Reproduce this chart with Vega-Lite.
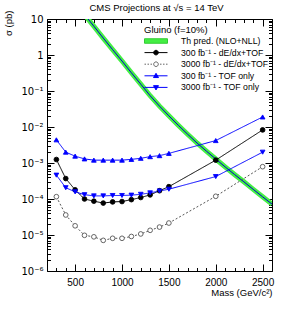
{
  "$schema": "https://vega.github.io/schema/vega-lite/v6.json",
  "width": 225,
  "height": 252,
  "autosize": {"type": "none"},
  "padding": {"left": 47, "top": 19, "right": 15, "bottom": 40},
  "background": "white",
  "config": {
    "font": "Liberation Sans",
    "view": {"stroke": "#000", "strokeWidth": 1},
    "axis": {"grid": false, "domain": false, "labelColor": "#000", "tickColor": "#000", "titleColor": "#000", "titleFontWeight": "normal", "labelFont": "Liberation Sans", "titleFont": "Liberation Sans", "labelFlush": false, "labelOverlap": false, "labelBound": false}
  },
  "title": {"text": "CMS Projections at √s = 14 TeV", "fontSize": 9.5, "fontWeight": "normal", "font": "Liberation Sans", "anchor": "middle", "frame": "group", "offset": -2, "color": "#000", "dx": -3},
  "data": {"values": [
    {"series": "Th pred. (NLO+NLL)", "mass": 500, "xs": 27.9},
    {"series": "Th pred. (NLO+NLL)", "mass": 600, "xs": 13.2},
    {"series": "Th pred. (NLO+NLL)", "mass": 700, "xs": 6.3},
    {"series": "Th pred. (NLO+NLL)", "mass": 800, "xs": 2.95},
    {"series": "Th pred. (NLO+NLL)", "mass": 900, "xs": 1.41},
    {"series": "Th pred. (NLO+NLL)", "mass": 1000, "xs": 0.68},
    {"series": "Th pred. (NLO+NLL)", "mass": 1100, "xs": 0.32},
    {"series": "Th pred. (NLO+NLL)", "mass": 1200, "xs": 0.155},
    {"series": "Th pred. (NLO+NLL)", "mass": 1300, "xs": 0.074},
    {"series": "Th pred. (NLO+NLL)", "mass": 1400, "xs": 0.038},
    {"series": "Th pred. (NLO+NLL)", "mass": 1500, "xs": 0.0204},
    {"series": "Th pred. (NLO+NLL)", "mass": 1600, "xs": 0.0112},
    {"series": "Th pred. (NLO+NLL)", "mass": 1700, "xs": 0.0063},
    {"series": "Th pred. (NLO+NLL)", "mass": 1800, "xs": 0.0036},
    {"series": "Th pred. (NLO+NLL)", "mass": 1900, "xs": 0.00214},
    {"series": "Th pred. (NLO+NLL)", "mass": 2000, "xs": 0.00129},
    {"series": "Th pred. (NLO+NLL)", "mass": 2100, "xs": 0.00078},
    {"series": "Th pred. (NLO+NLL)", "mass": 2200, "xs": 0.00048},
    {"series": "Th pred. (NLO+NLL)", "mass": 2300, "xs": 0.0003},
    {"series": "Th pred. (NLO+NLL)", "mass": 2400, "xs": 0.000185},
    {"series": "Th pred. (NLO+NLL)", "mass": 2500, "xs": 0.000115},
    {"series": "Th pred. (NLO+NLL)", "mass": 2600, "xs": 0.000072},

    {"series": "300 fb⁻¹ - dE/dx+TOF", "mass": 300, "xs": 0.00125},
    {"series": "300 fb⁻¹ - dE/dx+TOF", "mass": 400, "xs": 0.00037},
    {"series": "300 fb⁻¹ - dE/dx+TOF", "mass": 500, "xs": 0.00018},
    {"series": "300 fb⁻¹ - dE/dx+TOF", "mass": 600, "xs": 0.0001},
    {"series": "300 fb⁻¹ - dE/dx+TOF", "mass": 700, "xs": 0.000087},
    {"series": "300 fb⁻¹ - dE/dx+TOF", "mass": 800, "xs": 0.000077},
    {"series": "300 fb⁻¹ - dE/dx+TOF", "mass": 900, "xs": 0.000083},
    {"series": "300 fb⁻¹ - dE/dx+TOF", "mass": 1000, "xs": 0.000085},
    {"series": "300 fb⁻¹ - dE/dx+TOF", "mass": 1100, "xs": 0.000096},
    {"series": "300 fb⁻¹ - dE/dx+TOF", "mass": 1200, "xs": 0.00011},
    {"series": "300 fb⁻¹ - dE/dx+TOF", "mass": 1300, "xs": 0.00013},
    {"series": "300 fb⁻¹ - dE/dx+TOF", "mass": 1400, "xs": 0.00017},
    {"series": "300 fb⁻¹ - dE/dx+TOF", "mass": 1500, "xs": 0.00022},
    {"series": "300 fb⁻¹ - dE/dx+TOF", "mass": 2000, "xs": 0.0012},
    {"series": "300 fb⁻¹ - dE/dx+TOF", "mass": 2500, "xs": 0.0083},

    {"series": "3000 fb⁻¹ - dE/dx+TOF", "mass": 300, "xs": 0.000116},
    {"series": "3000 fb⁻¹ - dE/dx+TOF", "mass": 400, "xs": 0.000036},
    {"series": "3000 fb⁻¹ - dE/dx+TOF", "mass": 500, "xs": 0.000018},
    {"series": "3000 fb⁻¹ - dE/dx+TOF", "mass": 600, "xs": 0.0000098},
    {"series": "3000 fb⁻¹ - dE/dx+TOF", "mass": 700, "xs": 0.0000089},
    {"series": "3000 fb⁻¹ - dE/dx+TOF", "mass": 800, "xs": 0.0000071},
    {"series": "3000 fb⁻¹ - dE/dx+TOF", "mass": 900, "xs": 0.0000081},
    {"series": "3000 fb⁻¹ - dE/dx+TOF", "mass": 1000, "xs": 0.0000081},
    {"series": "3000 fb⁻¹ - dE/dx+TOF", "mass": 1100, "xs": 0.0000091},
    {"series": "3000 fb⁻¹ - dE/dx+TOF", "mass": 1200, "xs": 0.0000107},
    {"series": "3000 fb⁻¹ - dE/dx+TOF", "mass": 1300, "xs": 0.0000135},
    {"series": "3000 fb⁻¹ - dE/dx+TOF", "mass": 1400, "xs": 0.0000166},
    {"series": "3000 fb⁻¹ - dE/dx+TOF", "mass": 1500, "xs": 0.0000215},
    {"series": "3000 fb⁻¹ - dE/dx+TOF", "mass": 2000, "xs": 0.000119},
    {"series": "3000 fb⁻¹ - dE/dx+TOF", "mass": 2500, "xs": 0.00079},

    {"series": "300 fb⁻¹ - TOF only", "mass": 300, "xs": 0.0044},
    {"series": "300 fb⁻¹ - TOF only", "mass": 400, "xs": 0.002},
    {"series": "300 fb⁻¹ - TOF only", "mass": 500, "xs": 0.00155},
    {"series": "300 fb⁻¹ - TOF only", "mass": 600, "xs": 0.0013},
    {"series": "300 fb⁻¹ - TOF only", "mass": 700, "xs": 0.0012},
    {"series": "300 fb⁻¹ - TOF only", "mass": 800, "xs": 0.0012},
    {"series": "300 fb⁻¹ - TOF only", "mass": 900, "xs": 0.0012},
    {"series": "300 fb⁻¹ - TOF only", "mass": 1000, "xs": 0.0012},
    {"series": "300 fb⁻¹ - TOF only", "mass": 1100, "xs": 0.00126},
    {"series": "300 fb⁻¹ - TOF only", "mass": 1200, "xs": 0.00135},
    {"series": "300 fb⁻¹ - TOF only", "mass": 1300, "xs": 0.0015},
    {"series": "300 fb⁻¹ - TOF only", "mass": 1400, "xs": 0.0016},
    {"series": "300 fb⁻¹ - TOF only", "mass": 1500, "xs": 0.00185},
    {"series": "300 fb⁻¹ - TOF only", "mass": 2000, "xs": 0.0042},
    {"series": "300 fb⁻¹ - TOF only", "mass": 2500, "xs": 0.019},

    {"series": "3000 fb⁻¹ - TOF only", "mass": 300, "xs": 0.00046},
    {"series": "3000 fb⁻¹ - TOF only", "mass": 400, "xs": 0.000206},
    {"series": "3000 fb⁻¹ - TOF only", "mass": 500, "xs": 0.000158},
    {"series": "3000 fb⁻¹ - TOF only", "mass": 600, "xs": 0.000132},
    {"series": "3000 fb⁻¹ - TOF only", "mass": 700, "xs": 0.000122},
    {"series": "3000 fb⁻¹ - TOF only", "mass": 800, "xs": 0.000122},
    {"series": "3000 fb⁻¹ - TOF only", "mass": 900, "xs": 0.000125},
    {"series": "3000 fb⁻¹ - TOF only", "mass": 1000, "xs": 0.000125},
    {"series": "3000 fb⁻¹ - TOF only", "mass": 1100, "xs": 0.000128},
    {"series": "3000 fb⁻¹ - TOF only", "mass": 1200, "xs": 0.000135},
    {"series": "3000 fb⁻¹ - TOF only", "mass": 1300, "xs": 0.000148},
    {"series": "3000 fb⁻¹ - TOF only", "mass": 1400, "xs": 0.000167},
    {"series": "3000 fb⁻¹ - TOF only", "mass": 1500, "xs": 0.000187},
    {"series": "3000 fb⁻¹ - TOF only", "mass": 2000, "xs": 0.00042},
    {"series": "3000 fb⁻¹ - TOF only", "mass": 2500, "xs": 0.002}
  ]},
  "layer": [
    {
      "transform": [{"filter": "datum.series == 'Th pred. (NLO+NLL)'"}],
      "mark": {"type": "line", "color": "#44ee44", "strokeWidth": 5, "clip": true},
      "encoding": {
        "x": {"field": "mass", "type": "quantitative", "scale": {"domain": [200, 2600], "nice": false, "zero": false},
          "axis": {"orient": "top", "title": null, "labels": false, "values": [200,300,400,500,600,700,800,900,1000,1100,1200,1300,1400,1500,1600,1700,1800,1900,2000,2100,2200,2300,2400,2500,2600],
            "tickSize": {"condition": {"test": "datum.value % 500 == 0", "value": -7}, "value": -3.5}}},
        "y": {"field": "xs", "type": "quantitative", "scale": {"type": "log", "domain": [0.000001, 10], "nice": false},
          "axis": {"orient": "right", "title": null, "labels": false,
            "values": [1e-6,2e-6,3e-6,4e-6,5e-6,6e-6,7e-6,8e-6,9e-6,1e-5,2e-5,3e-5,4e-5,5e-5,6e-5,7e-5,8e-5,9e-5,1e-4,2e-4,3e-4,4e-4,5e-4,6e-4,7e-4,8e-4,9e-4,0.001,0.002,0.003,0.004,0.005,0.006,0.007,0.008,0.009,0.01,0.02,0.03,0.04,0.05,0.06,0.07,0.08,0.09,0.1,0.2,0.3,0.4,0.5,0.6,0.7,0.8,0.9,1,2,3,4,5,6,7,8,9,10],
            "tickSize": {"condition": {"test": "abs(datum.value/pow(10, round(log(datum.value)/LN10)) - 1) < 1e-6", "value": -7}, "value": -3.5}}}
      }
    },
    {
      "transform": [{"filter": "datum.series == 'Th pred. (NLO+NLL)'"}],
      "mark": {"type": "line", "color": "#0000cc", "strokeWidth": 1, "clip": true},
      "encoding": {
        "x": {"field": "mass", "type": "quantitative", "scale": {"domain": [200, 2600], "nice": false, "zero": false}, "axis": null},
        "y": {"field": "xs", "type": "quantitative", "scale": {"type": "log", "domain": [0.000001, 10], "nice": false}, "axis": null}
      }
    },
    {
      "transform": [{"filter": "datum.series != 'Th pred. (NLO+NLL)'"}],
      "mark": {"type": "line", "strokeWidth": 1, "clip": true},
      "encoding": {
        "x": {"field": "mass", "type": "quantitative", "scale": {"domain": [200, 2600], "nice": false, "zero": false},
          "axis": {"orient": "bottom", "format": "d", "labelFontSize": 10, "labelPadding": 13,
            "values": [200,300,400,500,600,700,800,900,1000,1100,1200,1300,1400,1500,1600,1700,1800,1900,2000,2100,2200,2300,2400,2500,2600],
            "labelExpr": "datum.value % 500 == 0 ? datum.label : ''",
            "tickSize": {"condition": {"test": "datum.value % 500 == 0", "value": -7}, "value": -3.5},
            "title": "Mass (GeV/c²)", "titleFontSize": 9.5, "titleX": 225, "titleY": 16, "titleAlign": "right", "titleBaseline": "top"}},
        "y": {"field": "xs", "type": "quantitative", "scale": {"type": "log", "domain": [0.000001, 10], "nice": false},
          "axis": {"orient": "left", "labelFontSize": 10, "labelPadding": 11, "labelFont": "DejaVu Sans",
            "values": [1e-6,2e-6,3e-6,4e-6,5e-6,6e-6,7e-6,8e-6,9e-6,1e-5,2e-5,3e-5,4e-5,5e-5,6e-5,7e-5,8e-5,9e-5,1e-4,2e-4,3e-4,4e-4,5e-4,6e-4,7e-4,8e-4,9e-4,0.001,0.002,0.003,0.004,0.005,0.006,0.007,0.008,0.009,0.01,0.02,0.03,0.04,0.05,0.06,0.07,0.08,0.09,0.1,0.2,0.3,0.4,0.5,0.6,0.7,0.8,0.9,1,2,3,4,5,6,7,8,9,10],
            "labelExpr": "abs(datum.value/pow(10, round(log(datum.value)/LN10)) - 1) < 1e-6 ? (round(log(datum.value)/LN10) == 1 ? '10' : round(log(datum.value)/LN10) == 0 ? '1' : '10⁻' + ['⁰','¹','²','³','⁴','⁵','⁶'][-round(log(datum.value)/LN10)]) : ''",
            "tickSize": {"condition": {"test": "abs(datum.value/pow(10, round(log(datum.value)/LN10)) - 1) < 1e-6", "value": -7}, "value": -3.5},
            "title": "σ (pb)", "titleFontSize": 9.5, "titleX": -39, "titleY": -9, "titleAngle": 270, "titleAlign": "right", "titleBaseline": "middle"}},
        "stroke": {"field": "series", "type": "nominal", "legend": null,
          "scale": {"domain": ["300 fb⁻¹ - dE/dx+TOF", "3000 fb⁻¹ - dE/dx+TOF", "300 fb⁻¹ - TOF only", "3000 fb⁻¹ - TOF only"], "range": ["#000000", "#555555", "#0000ff", "#0000ff"]}},
        "strokeDash": {"field": "series", "type": "nominal", "legend": null,
          "scale": {"domain": ["300 fb⁻¹ - dE/dx+TOF", "3000 fb⁻¹ - dE/dx+TOF", "300 fb⁻¹ - TOF only", "3000 fb⁻¹ - TOF only"], "range": [[1,0],[2,2],[1,0],[1,0]]}}
      }
    },
    {
      "transform": [{"filter": "datum.series != 'Th pred. (NLO+NLL)'"}],
      "mark": {"type": "point", "filled": true, "size": 22, "strokeWidth": 0.9, "opacity": 1, "clip": true},
      "encoding": {
        "x": {"field": "mass", "type": "quantitative", "scale": {"domain": [200, 2600], "nice": false, "zero": false}, "axis": null},
        "y": {"field": "xs", "type": "quantitative", "scale": {"type": "log", "domain": [0.000001, 10], "nice": false}, "axis": null},
        "fill": {"field": "series", "type": "nominal", "legend": null,
          "scale": {"domain": ["300 fb⁻¹ - dE/dx+TOF", "3000 fb⁻¹ - dE/dx+TOF", "300 fb⁻¹ - TOF only", "3000 fb⁻¹ - TOF only"], "range": ["#000000", "#ffffff", "#0000ff", "#0000ff"]}},
        "stroke": {"field": "series", "type": "nominal", "legend": null,
          "scale": {"domain": ["300 fb⁻¹ - dE/dx+TOF", "3000 fb⁻¹ - dE/dx+TOF", "300 fb⁻¹ - TOF only", "3000 fb⁻¹ - TOF only"], "range": ["#000000", "#555555", "#0000ff", "#0000ff"]}},
        "shape": {"field": "series", "type": "nominal", "legend": null,
          "scale": {"domain": ["300 fb⁻¹ - dE/dx+TOF", "3000 fb⁻¹ - dE/dx+TOF", "300 fb⁻¹ - TOF only", "3000 fb⁻¹ - TOF only"], "range": ["circle", "circle", "triangle-up", "triangle-down"]}}
      }
    },
    {
      "transform": [{"filter": "false"}],
      "mark": {"type": "point", "filled": true, "strokeWidth": 1, "opacity": 1},
      "encoding": {
        "x": {"field": "mass", "type": "quantitative", "scale": {"domain": [200, 2600], "nice": false, "zero": false}, "axis": null},
        "y": {"field": "xs", "type": "quantitative", "scale": {"type": "log", "domain": [0.000001, 10], "nice": false}, "axis": null},
        "fill": {"field": "series", "type": "nominal",
          "scale": {"domain": ["Th pred. (NLO+NLL)", "300 fb⁻¹ - dE/dx+TOF", "3000 fb⁻¹ - dE/dx+TOF", "300 fb⁻¹ - TOF only", "3000 fb⁻¹ - TOF only"], "range": ["#44ee44", "#000000", "#ffffff", "#0000ff", "#0000ff"]}},
        "stroke": {"field": "series", "type": "nominal",
          "scale": {"domain": ["Th pred. (NLO+NLL)", "300 fb⁻¹ - dE/dx+TOF", "3000 fb⁻¹ - dE/dx+TOF", "300 fb⁻¹ - TOF only", "3000 fb⁻¹ - TOF only"], "range": ["#33cc33", "#000000", "#666666", "#0000ff", "#0000ff"]}},
        "shape": {"field": "series", "type": "nominal",
          "scale": {"domain": ["Th pred. (NLO+NLL)", "300 fb⁻¹ - dE/dx+TOF", "3000 fb⁻¹ - dE/dx+TOF", "300 fb⁻¹ - TOF only", "3000 fb⁻¹ - TOF only"],
            "range": [
              "M-1,-0.45H3.6V0.45H-1Z",
              "M-1,0H3.6M0.84,0A0.46,0.46,0,1,1,1.76,0A0.46,0.46,0,1,1,0.84,0Z",
              "M-1,0H-0.7M-0.4,0H-0.1M0.2,0H0.5M2.1,0H2.4M2.7,0H3.0M3.3,0H3.6M0.84,0A0.46,0.46,0,1,1,1.76,0A0.46,0.46,0,1,1,0.84,0Z",
              "M-1,0H3.6M1.3,-0.5L1.8,0.35L0.8,0.35Z",
              "M-1,0H3.6M1.3,0.5L1.8,-0.35L0.8,-0.35Z"]},
          "legend": {
            "title": "Gluino (f=10%)", "orient": "none", "legendX": 97, "legendY": 6, "padding": 0,
            "symbolSize": 100, "symbolStrokeWidth": 1, "symbolOpacity": 1, "labelFontSize": 8.7, "titleFontSize": 9.5, "titleFontWeight": "normal", "titleColor": "#000", "labelColor": "#000",
            "labelOffset": 26, "labelLimit": 200, "rowPadding": 0.6, "titlePadding": 1, "titleFont": "Liberation Sans", "labelFont": "Liberation Sans",
            "labelExpr": "indexof(datum.label, '300 ') == 0 ? '\u00a0\u00a0' + datum.label : datum.label"
          }}
      }
    }
  ],
  "resolve": {"axis": {"x": "independent", "y": "independent"}, "scale": {"fill": "independent", "stroke": "independent", "shape": "independent"}}
}
